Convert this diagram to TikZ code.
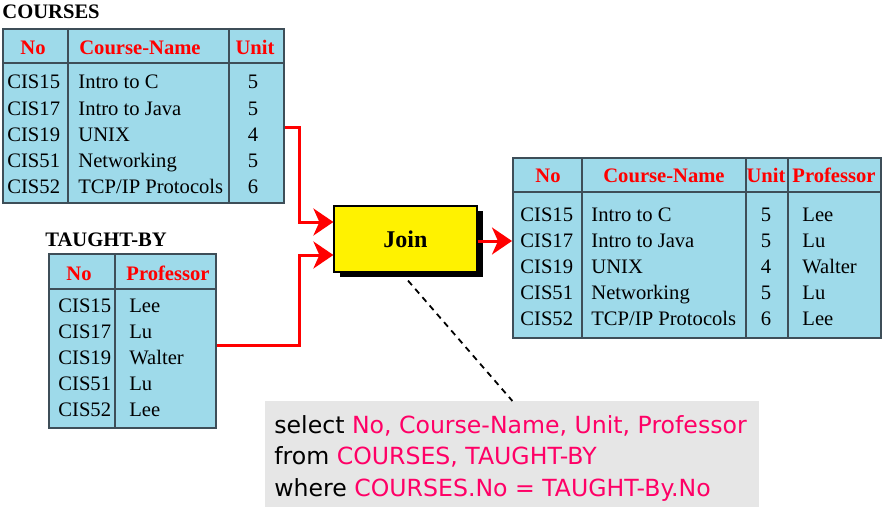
\documentclass[tikz,border=0pt]{standalone}
\usepackage{fontspec}
\setmainfont{Liberation Serif}
\newfontfamily\sqlfont{DejaVu Sans}
\usetikzlibrary{arrows.meta,shadows}

\definecolor{tblblue}{RGB}{158,218,234}
\definecolor{tblline}{RGB}{62,78,88}
\definecolor{sqlpink}{RGB}{255,0,102}
\definecolor{sqlgray}{RGB}{230,230,230}
\newcommand{\tblfont}{\fontsize{10.3}{12}\selectfont}

\tikzset{
  tbl/.style={rectangle, draw=tblline, fill=tblblue, line width=0.8pt, anchor=north west, inner sep=0pt},
  grid/.style={draw=tblline, line width=0.8pt},
  head/.style={anchor=base, inner sep=0pt, text=red, font=\tblfont\bfseries},
  cell/.style={anchor=base west, inner sep=0pt, font=\tblfont},
  num/.style={anchor=base, inner sep=0pt, font=\tblfont},
  joinarrow/.style={draw=red, line width=1.5pt, -{Stealth[length=10pt, width=13.5pt, inset=3pt]}},
  sqlline/.style={anchor=base west, inner sep=0pt, font=\sqlfont\fontsize{11.8}{14}\selectfont}
}

\begin{document}
\begin{tikzpicture}[x=0.5pt, y=-0.5pt]
    \useasboundingbox (0,0) rectangle (882,519);

    % COURSES table
    \node[anchor=base west, inner sep=0pt, font=\tblfont\bfseries] (coursestitle) at (2,19) {COURSES};
    \node[tbl, minimum width=140.5pt, minimum height=87pt] (courses) at (2,28) {};
    \draw[grid] (2,63) -- (283,63);
    \draw[grid] (68,28) -- (68,202);
    \draw[grid] (229,28) -- (229,202);
    \node[head] (chno) at (33,55) {No};
    \node[head] (chname) at (140,55) {Course-Name};
    \node[head] (chunit) at (255,55) {Unit};
    \foreach \no/\cname/\unit [count=\i] in {CIS15/Intro to C/5, CIS17/Intro to Java/5, CIS19/UNIX/4, CIS51/Networking/5, CIS52/TCP\slash IP Protocols/6}{
        \node[cell] (cno\i) at (7,63+26*\i) {\no};
        \node[cell] (cname\i) at (78,63+26*\i) {\cname};
        \node[num] (cunit\i) at (253,63+26*\i) {\unit};
    }

    % TAUGHT-BY table
    \node[anchor=base west, inner sep=0pt, font=\tblfont\bfseries] (taughttitle) at (45,246) {TAUGHT-BY};
    \node[tbl, minimum width=83.5pt, minimum height=87pt] (taught) at (48,253) {};
    \draw[grid] (48,289) -- (215,289);
    \draw[grid] (115,253) -- (115,427);
    \node[head] (thno) at (79,280) {No};
    \node[head] (thprof) at (168,280) {Professor};
    \foreach \no/\prof [count=\i] in {CIS15/Lee, CIS17/Lu, CIS19/Walter, CIS51/Lu, CIS52/Lee}{
        \node[cell] (tno\i) at (58,286+26*\i) {\no};
        \node[cell] (tprof\i) at (129,286+26*\i) {\prof};
    }

    % Join operation
    \node[rectangle, draw=black, fill=yellow, line width=0.6pt, minimum width=71.5pt, minimum height=33pt,
          drop shadow={shadow xshift=3pt, shadow yshift=-2.5pt, fill=black, opacity=1},
          font=\fontsize{12}{14}\selectfont\bfseries] (join) at (405.5,239) {Join};

    % Result table
    \node[tbl, minimum width=184pt, minimum height=90pt] (result) at (512,157) {};
    \draw[grid] (512,192) -- (880,192);
    \draw[grid] (582,157) -- (582,337);
    \draw[grid] (746,157) -- (746,337);
    \draw[grid] (788,157) -- (788,337);
    \node[head] (rhno) at (548,182) {No};
    \node[head] (rhname) at (664,182) {Course-Name};
    \node[head] (rhunit) at (766,182) {Unit};
    \node[head] (rhprof) at (834,182) {Professor};
    \foreach \no/\cname/\unit/\prof [count=\i] in {CIS15/Intro to C/5/Lee, CIS17/Intro to Java/5/Lu, CIS19/UNIX/4/Walter, CIS51/Networking/5/Lu, CIS52/TCP\slash IP Protocols/6/Lee}{
        \node[cell] (rno\i) at (520,195+26*\i) {\no};
        \node[cell] (rname\i) at (591,195+26*\i) {\cname};
        \node[num] (runit\i) at (766,195+26*\i) {\unit};
        \node[cell] (rprof\i) at (802,195+26*\i) {\prof};
    }

    % arrows into and out of the join
    \draw[joinarrow] ([yshift=-6pt]courses.east) -- ++(15,0) |- ([yshift=8.5pt]join.west);
    \draw[joinarrow] ([yshift=-2.5pt]taught.east) -- ++(83,0) |- ([yshift=-8pt]join.west);
    \draw[joinarrow] ([yshift=-1pt]join.east) -- ([yshift=-1pt]join.east -| result.west);

    % SQL statement
    \node[rectangle, fill=sqlgray, anchor=north west, minimum width=247pt, minimum height=53pt, inner sep=0pt] (sql) at (265,401) {};
    \draw[black, line width=0.9pt, dash pattern=on 3pt off 2.5pt] ([xshift=1.25pt, yshift=-4pt]join.south) -- (sql.north);
    \node[sqlline] (sqlselect) at (274,433) {select \textcolor{sqlpink}{No, Course-Name, Unit, Professor}};
    \node[sqlline] (sqlfrom) at (274,464) {from \textcolor{sqlpink}{COURSES, TAUGHT-BY}};
    \node[sqlline] (sqlwhere) at (274,496) {where \textcolor{sqlpink}{COURSES.No = TAUGHT-By.No}};
\end{tikzpicture}
\end{document}
